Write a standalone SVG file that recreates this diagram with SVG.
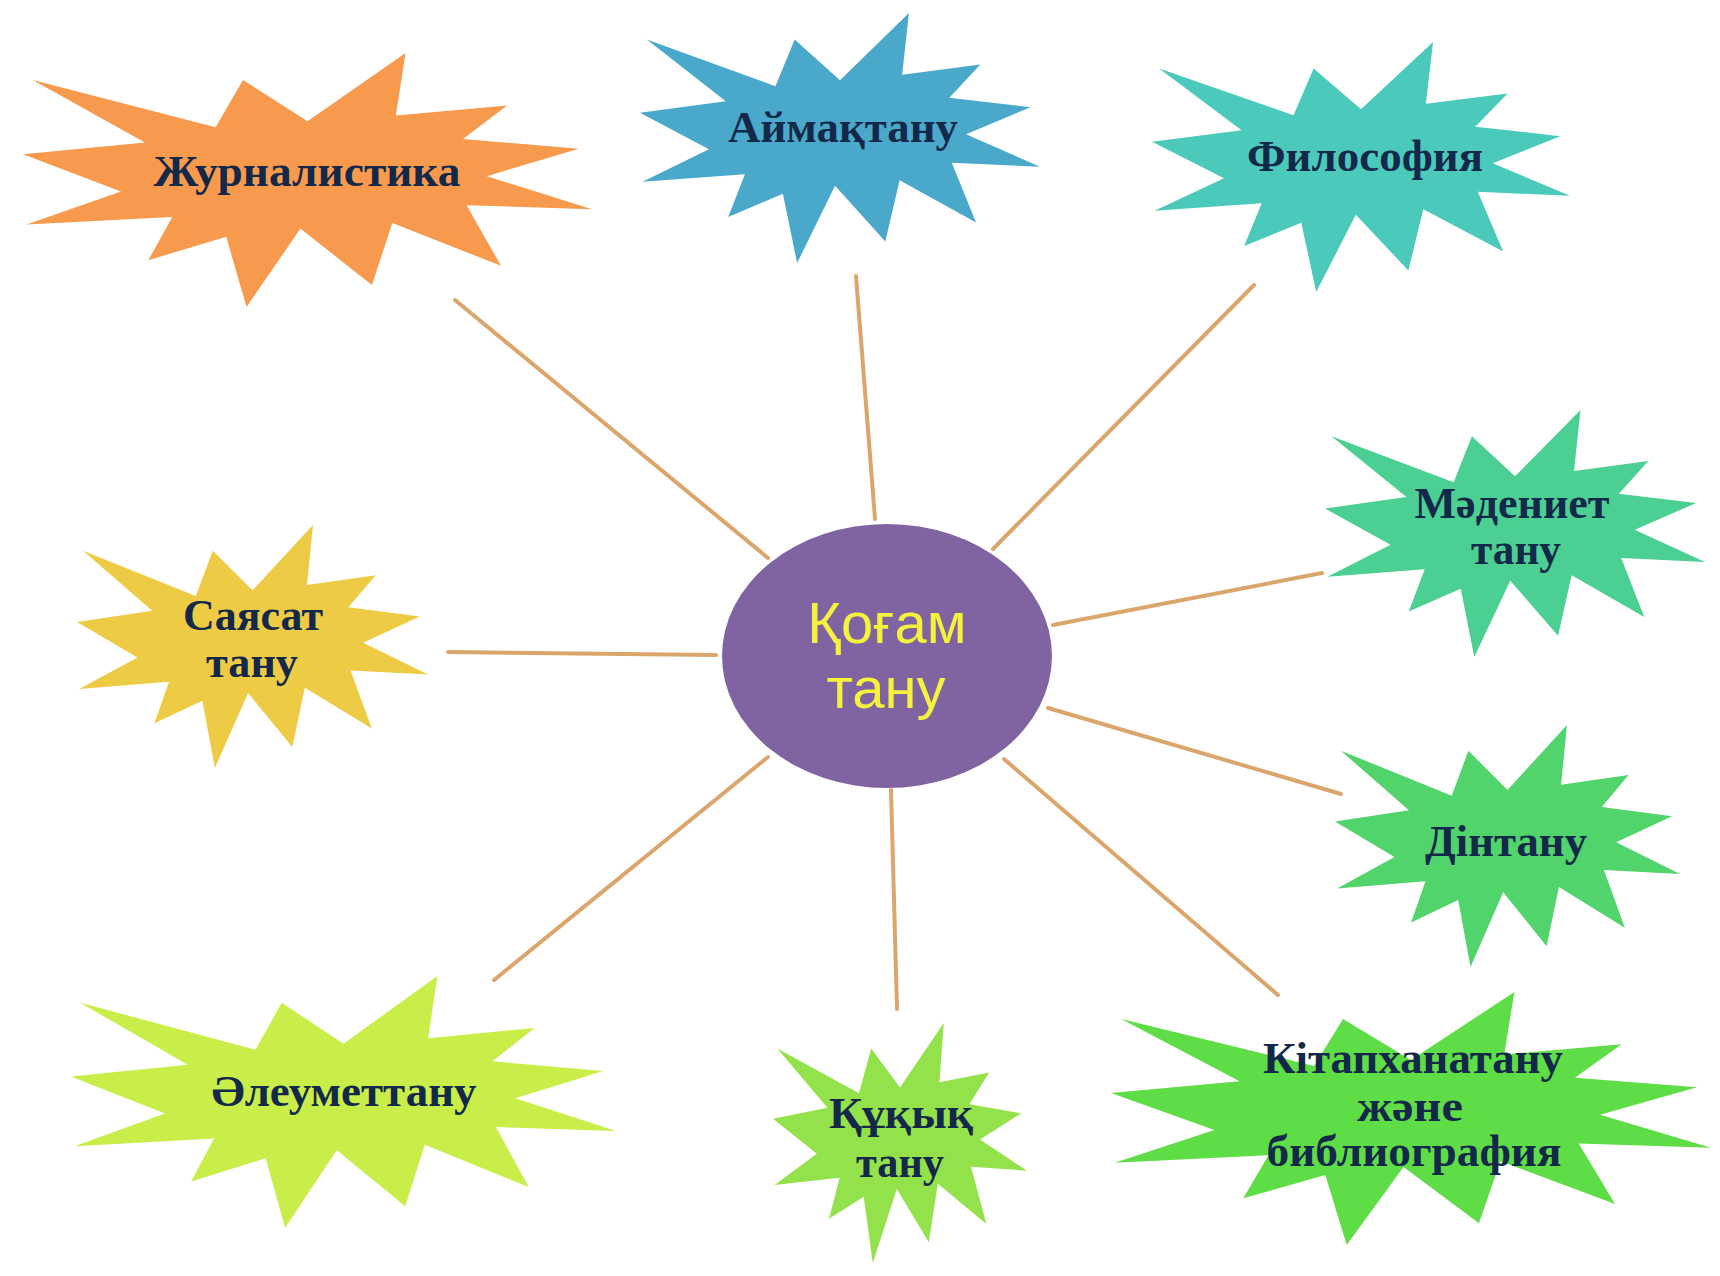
<svg xmlns="http://www.w3.org/2000/svg" xmlns:xlink="http://www.w3.org/1999/xlink" width="1720" height="1276" viewBox="0 0 1720 1276">
<style>
.lbl{font-family:"Liberation Serif","Times New Roman",serif;font-weight:bold;font-size:44px;fill:#14294a;text-anchor:middle}
.ctr{font-family:"Liberation Sans",Arial,sans-serif;font-size:58px;fill:#f4f23c;text-anchor:middle}
.conn line{stroke:#dba66c;stroke-width:4;stroke-linecap:round}
</style>
<defs>
<path id="seal" d="M10800,5800 L14522,0 L14155,5325 L18380,4457 L16702,7315 L21097,8137 L17607,10475 L21600,13290 L16837,12942 L18145,18095 L14020,14457 L13247,19737 L10532,14935 L8485,21600 L7715,15627 L4762,17617 L5667,13937 L135,14587 L3722,11775 L0,8615 L4627,7617 L370,2295 L7312,6320 L8352,2295 Z"/>
</defs>
<rect width="1720" height="1276" fill="#ffffff"/>
<g id="connectors" class="conn">
<line x1="455" y1="300" x2="768" y2="558"/>
<line x1="856" y1="276" x2="875" y2="519"/>
<line x1="1254" y1="285" x2="993" y2="549"/>
<line x1="1322" y1="573" x2="1053" y2="625"/>
<line x1="448" y1="652" x2="716" y2="655"/>
<line x1="1341" y1="794" x2="1048" y2="708"/>
<line x1="494" y1="980" x2="768" y2="757"/>
<line x1="897" y1="1009" x2="891" y2="790"/>
<line x1="1278" y1="995" x2="1004" y2="759"/>
</g>
<g id="center">
<ellipse cx="887" cy="656" rx="165" ry="132" fill="#8064a2"/>
<text class="ctr" x="887" y="643">Қоғам</text>
<text class="ctr" x="886" y="708">тану</text>
</g>
<g id="n-zhurnalistika">
<use xlink:href="#seal" href="#seal" fill="#f79a4e" transform="translate(23,53) scale(0.026343,0.011759)"/>
<text class="lbl" x="307" y="186" textLength="307" lengthAdjust="spacingAndGlyphs">Журналистика</text>
</g>
<g id="n-aimaktanu">
<use xlink:href="#seal" href="#seal" fill="#4aa9cb" transform="translate(640,13) scale(0.018519,0.011574)"/>
<text class="lbl" x="843" y="142" textLength="230" lengthAdjust="spacingAndGlyphs">Аймақтану</text>
</g>
<g id="n-filosofiya">
<use xlink:href="#seal" href="#seal" fill="#4bcabb" transform="translate(1152,42) scale(0.019352,0.011574)"/>
<text class="lbl" x="1365" y="171" textLength="236" lengthAdjust="spacingAndGlyphs">Философия</text>
</g>
<g id="n-madeniet">
<use xlink:href="#seal" href="#seal" fill="#4ccf92" transform="translate(1325,410) scale(0.017593,0.011435)"/>
<text class="lbl" x="1512" y="518" textLength="195" lengthAdjust="spacingAndGlyphs">Мәдениет</text>
<text class="lbl" x="1516" y="564" textLength="90" lengthAdjust="spacingAndGlyphs">тану</text>
</g>
<g id="n-sayasat">
<use xlink:href="#seal" href="#seal" fill="#eecb45" transform="translate(77,525) scale(0.016250,0.011250)"/>
<text class="lbl" x="253" y="630" textLength="140" lengthAdjust="spacingAndGlyphs">Саясат</text>
<text class="lbl" x="252" y="677" textLength="92" lengthAdjust="spacingAndGlyphs">тану</text>
</g>
<g id="n-dintanu">
<use xlink:href="#seal" href="#seal" fill="#50d46b" transform="translate(1335,725) scale(0.015972,0.011204)"/>
<text class="lbl" x="1506" y="856" textLength="162" lengthAdjust="spacingAndGlyphs">Дінтану</text>
</g>
<g id="n-aleumettanu">
<use xlink:href="#seal" href="#seal" fill="#c9ee4a" transform="translate(71,976) scale(0.025231,0.011667)"/>
<text class="lbl" x="344" y="1106" textLength="265" lengthAdjust="spacingAndGlyphs">Әлеуметтану</text>
</g>
<g id="n-kukyk">
<use xlink:href="#seal" href="#seal" fill="#94e24b" transform="translate(773,1023) scale(0.011759,0.011111)"/>
<text class="lbl" x="901" y="1128" textLength="144" lengthAdjust="spacingAndGlyphs">Құқық</text>
<text class="lbl" x="900" y="1177" textLength="88" lengthAdjust="spacingAndGlyphs">тану</text>
</g>
<g id="n-kitaphana">
<use xlink:href="#seal" href="#seal" fill="#5fdd47" transform="translate(1111,992) scale(0.027778,0.011713)"/>
<text class="lbl" x="1413" y="1073" textLength="300" lengthAdjust="spacingAndGlyphs">Кітапханатану</text>
<text class="lbl" x="1410" y="1121" textLength="106" lengthAdjust="spacingAndGlyphs">және</text>
<text class="lbl" x="1414" y="1166" textLength="295" lengthAdjust="spacingAndGlyphs">библиография</text>
</g>
</svg>
